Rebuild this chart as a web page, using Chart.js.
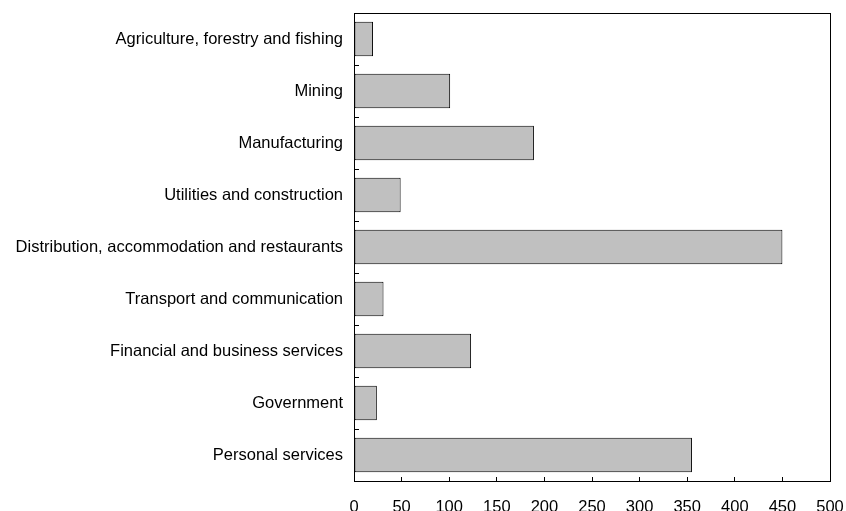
<!DOCTYPE html>
<html>
<head>
<meta charset="utf-8">
<script src="https://cdn.jsdelivr.net/npm/chart.js@4/dist/chart.umd.min.js"></script>
<style>
  html, body { margin: 0; padding: 0; background: #fff; }
  #wrap { width: 846px; height: 511px; }
</style>
</head>
<body>
<div id="wrap"><canvas id="sectorChart" width="846" height="511"></canvas></div>
<script>
// sectors, top to bottom
var sectors = [
    "Agriculture, forestry and fishing",
    "Mining",
    "Manufacturing",
    "Utilities and construction",
    "Distribution, accommodation and restaurants",
    "Transport and communication",
    "Financial and business services",
    "Government",
    "Personal services"
]
var sectorValues = [20, 101, 189, 49, 450, 31, 123, 24, 355]
var xMin = 0
var xMax = 500
var xStep = 50

var labelFont = { family: "Liberation Sans, Arial, sans-serif", size: 16.5 }

// box round the plot area
var frameBox = {
    id: "frameBox",
    afterDraw: function(chart){
        var a = chart.chartArea
        var ctx = chart.ctx
        ctx.save()
        ctx.strokeStyle = "#000"
        ctx.lineWidth = 1
        ctx.strokeRect(Math.round(a.left) + 0.5, Math.round(a.top) + 0.5,
            Math.round(a.right - a.left), Math.round(a.bottom - a.top))
        ctx.restore()
    }
}

var sectorChart = new Chart(document.getElementById("sectorChart"), {
    type: "bar",
    data: {
        labels: sectors,
        datasets: [{
            data: sectorValues,
            backgroundColor: "#c0c0c0",
            borderColor: "#000",
            borderWidth: 1,
            borderSkipped: false,
            categoryPercentage: 1,
            barPercentage: 0.66
        }]
    },
    options: {
        indexAxis: "y",
        responsive: false,
        animation: false,
        layout: { padding: { top: 13, right: 16, left: 0, bottom: 0 } },
        plugins: {
            legend: { display: false },
            tooltip: { enabled: false }
        },
        scales: {
            x: {
                min: xMin,
                max: xMax,
                ticks: {
                    stepSize: xStep,
                    color: "#000",
                    font: labelFont,
                    padding: 21,
                    maxRotation: 0
                },
                grid: {
                    drawOnChartArea: false,
                    tickLength: -4,
                    color: "#000"
                },
                border: { color: "#000" },
                afterFit: function(scale){
                    scale.height = 30
                    scale.paddingLeft = 0
                    scale.paddingRight = 0
                }
            },
            y: {
                ticks: {
                    color: "#000",
                    font: labelFont,
                    padding: 16
                },
                grid: {
                    offset: true,
                    drawOnChartArea: false,
                    tickLength: -5,
                    color: "#000"
                },
                border: { color: "#000" },
                afterFit: function(scale){
                    scale.width = 354
                    scale.paddingTop = 0
                    scale.paddingBottom = 0
                }
            }
        }
    },
    plugins: [frameBox]
})
</script>
</body>
</html>
